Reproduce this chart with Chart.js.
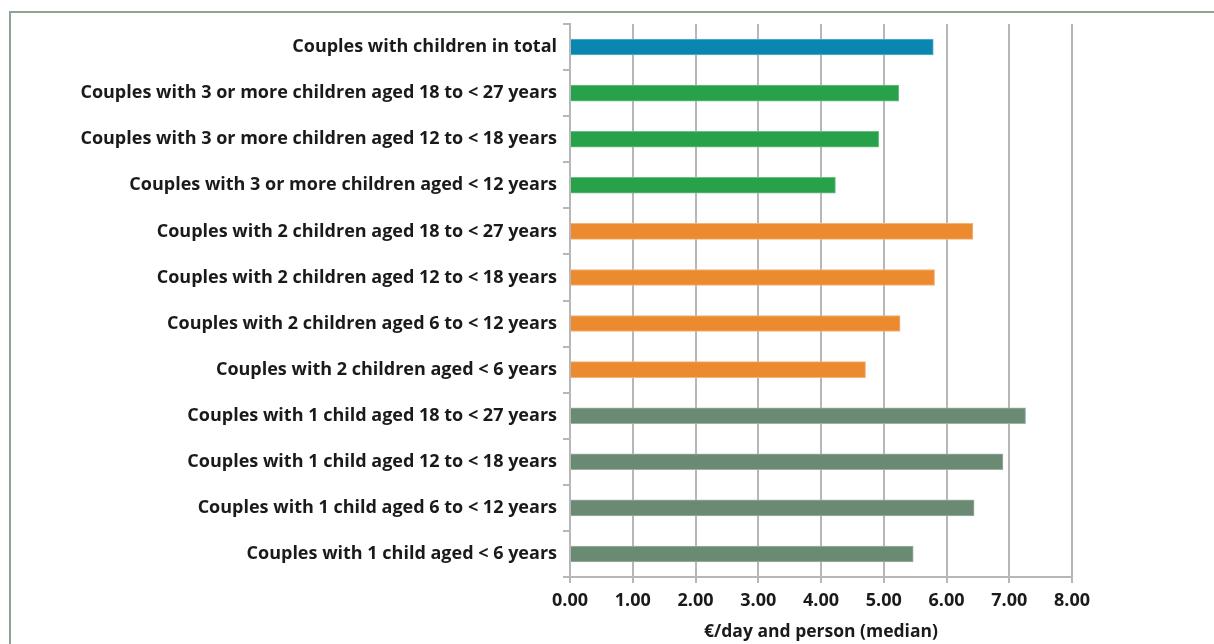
<!DOCTYPE html>
<html>
<head>
<meta charset="utf-8">
<script src="https://cdn.jsdelivr.net/npm/chart.js@4"></script>
<style>
  html, body { margin: 0; padding: 0; background: #fff; }
  #frame {
    position: absolute; left: 9px; top: 11px; width: 1205px; height: 633px;
    border-top: 2px solid #8fa393; border-left: 2px solid #8fa393;
    box-sizing: border-box;
  }
  #wrap { position: absolute; left: 0; top: 0; width: 1214px; height: 644px; }
</style>
</head>
<body>
<div id="frame"></div>
<div id="wrap"><canvas id="chart"></canvas></div>
<script>
// Data (top to bottom)
const categories = [
  'Couples with children in total',
  'Couples with 3 or more children aged 18 to < 27 years',
  'Couples with 3 or more children aged 12 to < 18 years',
  'Couples with 3 or more children aged < 12 years',
  'Couples with 2 children aged 18 to < 27 years',
  'Couples with 2 children aged 12 to < 18 years',
  'Couples with 2 children aged 6 to < 12 years',
  'Couples with 2 children aged < 6 years',
  'Couples with 1 child aged 18 to < 27 years',
  'Couples with 1 child aged 12 to < 18 years',
  'Couples with 1 child aged 6 to < 12 years',
  'Couples with 1 child aged < 6 years'
];
const medianValues = [5.79, 5.24, 4.92, 4.23, 6.42, 5.81, 5.26, 4.71, 7.26, 6.90, 6.44, 5.47];
const groups = ['total', '3', '3', '3', '2', '2', '2', '2', '1', '1', '1', '1'];
const xTicks = [0, 1, 2, 3, 4, 5, 6, 7, 8];
const axisTitle = '€/day and person (median)';

const groupColors = { total: '#0987b1', '3': '#27a14a', '2': '#ec8a2f', '1': '#6b8a73' };
const groupBorders = { total: '#5fb2cf', '3': '#6cc083', '2': '#f3b47a', '1': '#9cb3a2' };

const gridColor = '#b7b7b7';
const font = '"Open Sans", Lato, sans-serif';

new Chart(document.getElementById('chart'), {
  type: 'bar',
  data: {
    labels: categories,
    datasets: [{
      data: medianValues,
      backgroundColor: groups.map(g => groupColors[g]),
      borderColor: groups.map(g => groupBorders[g]),
      borderWidth: 1,
      barThickness: 16
    }]
  },
  options: {
    indexAxis: 'y',
    responsive: true,
    maintainAspectRatio: false,
    animation: false,
    layout: { padding: { top: 24, right: 142, left: 0, bottom: 0 } },
    plugins: { legend: { display: false }, tooltip: { enabled: false } },
    scales: {
      x: {
        min: 0, max: 8,
        afterBuildTicks: (scale) => { scale.ticks = xTicks.map(v => ({ value: v })); },
        afterFit: (scale) => { scale.height = 67; },
        grid: { color: gridColor, lineWidth: 2, tickLength: 6 },
        border: { color: gridColor, width: 2 },
        ticks: {
          color: '#1a1a1a', padding: 7,
          font: { family: font, size: 18, weight: 'bold' },
          callback: (v) => Number(v).toFixed(2)
        },
        title: {
          display: true, text: axisTitle, color: '#1a1a1a',
          font: { family: font, size: 17.5, weight: 'bold' },
          padding: { top: 4, bottom: 1 }
        }
      },
      y: {
        afterFit: (scale) => { scale.width = 570; },
        grid: { drawOnChartArea: false, color: gridColor, lineWidth: 2, tickLength: 7, offset: true },
        border: { color: gridColor, width: 2 },
        ticks: {
          color: '#1a1a1a', padding: 6,
          font: { family: font, size: 18, weight: 'bold' }
        }
      }
    }
  }
});
</script>
</body>
</html>
